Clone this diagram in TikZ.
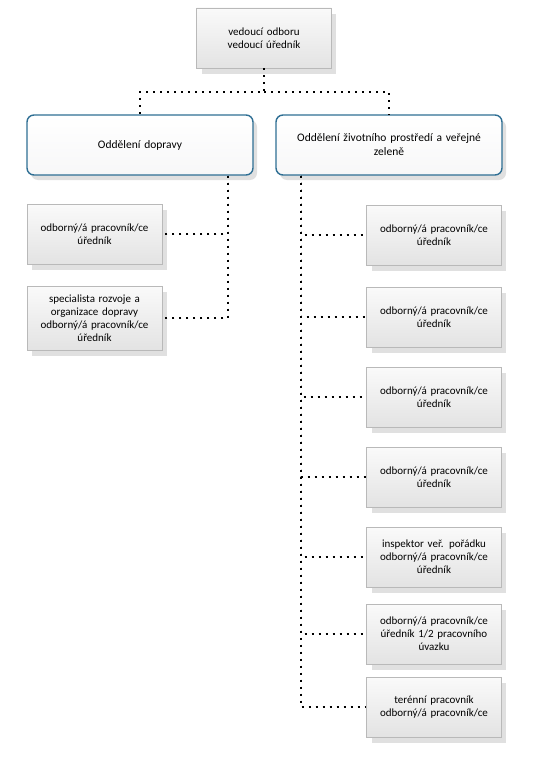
\documentclass[tikz,border=0pt]{standalone}
\usepackage{fontspec}
\setmainfont{Carlito}
\usetikzlibrary{shadows,calc}
\definecolor{deptborder}{HTML}{2F6F94}
\tikzset{
  px/.style={x=1pt,y=-1pt},
  graybox/.style={draw=gray!55, line width=0.6pt, top color=gray!4, bottom color=gray!22,
    minimum width=134pt, minimum height=60pt, text width=128pt, align=center,
    font=\fontsize{11}{13}\selectfont,
    drop shadow={shadow xshift=5pt, shadow yshift=-6pt, opacity=0.3, fill=gray!80}},
  deptbox/.style={draw=deptborder, line width=1.4pt, rounded corners=7pt,
    top color=white, bottom color=blue!4!gray!6,
    minimum width=226pt, minimum height=60pt, text width=214pt, align=center,
    font=\fontsize{11.5}{14}\selectfont,
    drop shadow={shadow xshift=4pt, shadow yshift=-5pt, opacity=0.3, fill=gray!80}},
  link/.style={line width=2pt, dash pattern=on 2pt off 5pt, line cap=butt}
}
\begin{document}
\begin{tikzpicture}[px]
\useasboundingbox (0,0) rectangle (538,784);
\fill[white] (0,0) rectangle (538,784);
\node[graybox, minimum width=132pt] (top) at (264,38) {vedoucí odboru\\vedoucí úředník};
\node[deptbox] (dl) at (140,145) {Oddělení dopravy};
\node[deptbox] (dr) at (389,145) {Oddělení životního prostředí a veřejné\\zeleně};
\node[graybox, minimum width=135pt] (l1) at (94.5,234) {odborný/á pracovník/ce\\úředník};
\node[graybox, minimum width=135pt, minimum height=64pt] (l2) at (94.5,318) {specialista rozvoje a\\organizace dopravy\\odborný/á pracovník/ce\\úředník};
\node[graybox] (r1) at (434,235) {odborný/á pracovník/ce\\úředník};
\node[graybox] (r2) at (434,317) {odborný/á pracovník/ce\\úředník};
\node[graybox] (r3) at (434,397) {odborný/á pracovník/ce\\úředník};
\node[graybox] (r4) at (434,477) {odborný/á pracovník/ce\\úředník};
\node[graybox] (r5) at (434,557) {inspektor veř. pořádku\\odborný/á pracovník/ce\\úředník};
\node[graybox] (r6) at (434,634) {odborný/á pracovník/ce\\úředník 1/2 pracovního\\úvazku};
\node[graybox] (r7) at (434,707) {terénní pracovník\\odborný/á pracovník/ce};
\coordinate (j) at (264,92);
\coordinate (xl) at (228,0);
\coordinate (xr) at (301,0);
\draw[link] (top.south) -- (j) -| (dl.north);
\draw[link] (j) -| (dr.north);
\draw[link] (xl |- dl.south) |- (l1.east);
\draw[link] (xl |- dl.south) |- (l2.east);
\foreach \n in {r1,r2,r3,r4,r5,r6,r7}{
  \draw[link] (xr |- dr.south) |- (\n.west);
}
\end{tikzpicture}
\end{document}
